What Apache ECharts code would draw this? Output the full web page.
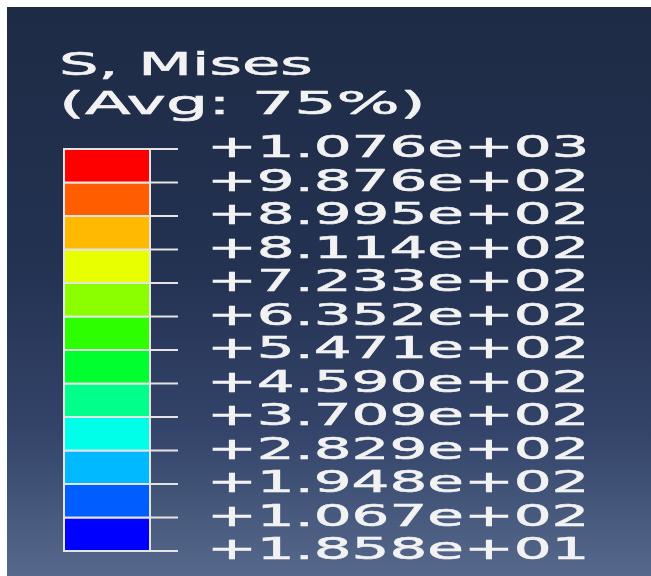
<!DOCTYPE html>
<html>
<head>
<meta charset="utf-8">
<script src="https://cdn.jsdelivr.net/npm/echarts@6/dist/echarts.min.js"></script>
<style>
html,body{margin:0;padding:0;background:#ffffff;}
#chart{position:absolute;left:0;top:0;width:651px;height:576px;}
</style>
</head>
<body>
<div id="chart"></div>
<script>
// Contour legend data (bottom -> top)
const titleLines = ['S, Mises', '(Avg: 75%)'];
const bandColors = ['#0000FF', '#005DFF', '#00B9FF', '#00FFE8', '#00FF8B', '#00FF2E',
                    '#2EFF00', '#8BFF00', '#E8FF00', '#FFB900', '#FF5D00', '#FF0000'];
const tickLabels = ['+1.858e+01', '+1.067e+02', '+1.948e+02', '+2.829e+02', '+3.709e+02',
                    '+4.590e+02', '+5.471e+02', '+6.352e+02', '+7.233e+02', '+8.114e+02',
                    '+8.995e+02', '+9.876e+02', '+1.076e+03'];

const chart = echarts.init(document.getElementById('chart'), null, {renderer: 'canvas'});
const FONT = '"DejaVu Sans", Verdana, sans-serif';
const TXT = '#f2f2f2';
const LINE = '#e4e4e4';

chart.setOption({
  backgroundColor: '#ffffff',
  animation: false,
  graphic: [
    {
      type: 'rect', left: 7, top: 7, z: -10,
      shape: {width: 644, height: 569},
      style: {
        fill: new echarts.graphic.LinearGradient(0, 0, 0, 1, [
          {offset: 0, color: '#1e2b46'},
          {offset: 0.45, color: '#233251'},
          {offset: 0.75, color: '#34446a'},
          {offset: 1, color: '#56698c'}
        ])
      }
    },
    {
      type: 'text', x: 59, y: 67, scaleX: 1.95, scaleY: 1,
      style: {text: titleLines[0], font: '32px ' + FONT, fill: TXT, stroke: TXT, lineWidth: 0.6, verticalAlign: 'middle'}
    },
    {
      type: 'text', x: 59, y: 106, scaleX: 2.08, scaleY: 1,
      style: {text: titleLines[1], font: '32px ' + FONT, fill: TXT, stroke: TXT, lineWidth: 0.6, verticalAlign: 'middle'}
    }
  ],
  grid: {left: 64, top: 149, width: 86, height: 402},
  xAxis: {type: 'value', min: 0, max: 1, show: false},
  yAxis: {
    type: 'value', min: 0, max: 12, interval: 1, show: false
  },
  series: [
    {
      type: 'custom',
      data: bandColors.map((c, i) => [i]),
      renderItem: function (params, api) {
        const i = api.value(0);
        const bl = api.coord([0, i]);
        const tr = api.coord([1, i + 1]);
        return {
          type: 'rect',
          shape: {x: bl[0], y: tr[1], width: tr[0] - bl[0], height: bl[1] - tr[1]},
          style: {fill: bandColors[i], stroke: LINE, lineWidth: 2}
        };
      }
    },
    {
      type: 'custom',
      data: tickLabels.map((t, i) => [i]),
      renderItem: function (params, api) {
        const i = api.value(0);
        const p = api.coord([1, i]);
        return {
          type: 'group',
          children: [
            {
              type: 'line',
              shape: {x1: p[0], y1: p[1], x2: p[0] + 28, y2: p[1]},
              style: {stroke: LINE, lineWidth: 2}
            },
            {
              type: 'text',
              x: p[0] + 57, y: p[1], scaleX: 1.92, scaleY: 1,
              style: {text: tickLabels[i], font: '31px ' + FONT, fill: TXT, stroke: TXT, lineWidth: 0.6, verticalAlign: 'middle'}
            }
          ]
        };
      }
    }
  ]
});
</script>
</body>
</html>
